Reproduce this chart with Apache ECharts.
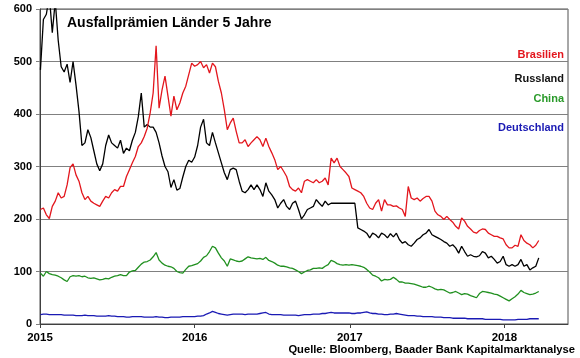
<!DOCTYPE html>
<html><head><meta charset="utf-8">
<script src="https://cdn.jsdelivr.net/npm/echarts@6/dist/echarts.min.js"></script>
<style>html,body{margin:0;padding:0;background:#fff}#c{width:580px;height:358px}</style>
</head><body><div id="c"></div>
<script>
const dates = ['2015-01-02','2015-01-09','2015-01-16','2015-01-23','2015-01-30','2015-02-06','2015-02-13','2015-02-20','2015-02-27','2015-03-06','2015-03-13','2015-03-20','2015-03-27','2015-04-03','2015-04-10','2015-04-17','2015-04-24','2015-05-01','2015-05-08','2015-05-15','2015-05-22','2015-05-29','2015-06-05','2015-06-12','2015-06-19','2015-06-26','2015-07-03','2015-07-10','2015-07-17','2015-07-24','2015-07-31','2015-08-07','2015-08-14','2015-08-21','2015-08-28','2015-09-04','2015-09-11','2015-09-18','2015-09-25','2015-10-02','2015-10-09','2015-10-16','2015-10-23','2015-10-30','2015-11-06','2015-11-13','2015-11-20','2015-11-27','2015-12-04','2015-12-11','2015-12-18','2015-12-25',
'2016-01-01','2016-01-08','2016-01-15','2016-01-22','2016-01-29','2016-02-05','2016-02-12','2016-02-19','2016-02-26','2016-03-04','2016-03-11','2016-03-18','2016-03-25','2016-04-01','2016-04-08','2016-04-15','2016-04-22','2016-04-29','2016-05-06','2016-05-13','2016-05-20','2016-05-27','2016-06-03','2016-06-10','2016-06-17','2016-06-24','2016-07-01','2016-07-08','2016-07-15','2016-07-22','2016-07-29','2016-08-05','2016-08-12','2016-08-19','2016-08-26','2016-09-02','2016-09-09','2016-09-16','2016-09-23','2016-09-30','2016-10-07','2016-10-14','2016-10-21','2016-10-28','2016-11-04','2016-11-11','2016-11-18','2016-11-25','2016-12-02','2016-12-09','2016-12-16','2016-12-23','2016-12-30',
'2017-01-06','2017-01-13','2017-01-20','2017-01-27','2017-02-03','2017-02-10','2017-02-17','2017-02-24','2017-03-03','2017-03-10','2017-03-17','2017-03-24','2017-03-31','2017-04-07','2017-04-14','2017-04-21','2017-04-28','2017-05-05','2017-05-12','2017-05-19','2017-05-26','2017-06-02','2017-06-09','2017-06-16','2017-06-23','2017-06-30','2017-07-07','2017-07-14','2017-07-21','2017-07-28','2017-08-04','2017-08-11','2017-08-18','2017-08-25','2017-09-01','2017-09-08','2017-09-15','2017-09-22','2017-09-29','2017-10-06','2017-10-13','2017-10-20','2017-10-27','2017-11-03','2017-11-10','2017-11-17','2017-11-24','2017-12-01','2017-12-08','2017-12-15','2017-12-22','2017-12-29',
'2018-01-05','2018-01-12','2018-01-19','2018-01-26','2018-02-02','2018-02-09','2018-02-16','2018-02-23','2018-03-02','2018-03-09','2018-03-16','2018-03-23'];

const brasilien = [218,221,208,201,224,234,250,240,243,265,
298,305,284,272,250,237,243,234,230,227,
224,234,243,240,250,256,253,262,262,281,
294,307,319,338,345,357,373,402,440,530,
411,446,472,434,396,434,408,421,440,453,
475,497,491,494,500,488,494,478,497,490,
462,440,408,370,383,392,367,345,345,351,
338,345,351,357,351,338,354,338,326,313,
294,300,291,281,262,256,253,259,250,272,
275,272,269,275,269,272,278,265,316,307,
316,300,294,288,281,259,256,253,250,243,
230,221,218,230,237,215,237,227,227,224,
225,221,218,205,262,240,237,240,234,239,
243,243,234,215,208,205,199,205,199,194,
186,181,202,196,186,181,175,173,178,181,
180,173,170,167,167,164,162,151,145,145,
150,148,170,159,154,151,145,150,159];

const russland = [484,580,590,625,555,615,540,490,480,495,
460,500,455,405,340,345,370,355,330,305,
292,305,340,360,345,340,335,350,325,335,
330,350,365,395,440,375,380,375,375,365,
345,320,300,290,260,275,255,258,280,300,
312,308,318,340,375,390,345,340,365,345,
326,307,288,275,294,297,294,272,253,250,
256,265,256,265,256,243,269,253,246,237,
221,230,237,224,218,230,234,218,200,208,
218,221,224,237,230,224,234,227,230,230,
230,230,230,230,230,230,230,183,180,177,
173,164,173,170,164,173,170,164,172,166,
173,161,154,157,151,148,154,161,164,170,
173,180,170,167,164,161,157,154,148,151,
145,135,148,138,129,132,129,128,130,138,
135,126,129,123,116,119,129,113,110,113,
110,113,123,110,113,103,107,110,126];

const china = [97,91,100,96,94,93,91,88,84,81,
90,92,91,92,90,91,88,87,88,86,
84,85,87,86,89,91,92,94,92,92,
99,101,102,108,114,118,119,122,128,136,
122,116,112,110,109,106,100,98,97,104,
110,111,113,115,120,127,130,138,148,145,
135,126,120,110,124,122,120,119,120,124,
128,126,125,124,125,123,127,121,119,116,
112,110,110,109,107,106,103,100,96,99,
102,103,106,106,107,106,110,113,121,119,
115,113,112,113,112,113,112,111,110,108,
104,99,93,91,88,82,85,84,85,89,
85,80,80,78,78,77,76,74,72,70,
70,72,70,67,65,66,65,62,59,60,
62,59,56,58,57,54,52,50,58,62,
61,60,59,57,56,53,50,47,44,48,
52,57,64,60,58,56,57,59,62];

const deutschland = [18,19,19,18,18,18,18,18,17,17,17,
17,16,16,16,17,16,16,16,15,15,
15,15,16,15,15,14,14,14,13,13,
14,14,14,14,13,13,13,13,14,13,13,12,12,13,13,
13,13,14,14,14,14,14,15,15,16,19,21,24,
22,20,19,18,17,18,19,19,19,19,18,19,
19,19,19,20,21,22,19,18,18,18,18,17,17,17,17,
17,16,17,18,18,18,19,19,19,20,20,21,22,21,21,
21,21,21,21,20,20,21,21,22,23,21,20,20,19,19,18,18,19,19,
20,19,18,17,16,16,16,15,15,14,14,14,14,13,13,13,12,12,12,11,11,
11,11,11,10,10,10,10,10,10,9,9,9,9,9,9,8,8,8,8,8,9,9,9,9,10,10,10,10];

const yearLabels = ['2015','2016','2017','2018'];
const axisStart = '2015-01-01';
const axisEnd = '2018-05-31';
const yTicks = [0,100,200,300,400,500,600];
const seriesNames = ['Brasilien','Russland','China','Deutschland'];
const seriesColors = ['#e3161d','#000000','#20901f','#1a1ab4'];

const FONT = '"Liberation Sans", Arial, sans-serif';
const ts = s => { const p = s.split('-').map(Number); return Date.UTC(p[0], (p[1] || 1) - 1, p[2] || 1); };
const yearTs = yearLabels.map(y => ts(y));
const pairs = arr => arr.map((v, i) => [ts(dates[i]), v]);
const allData = [brasilien, russland, china, deutschland];

const chart = echarts.init(document.getElementById('c'), null, {renderer: 'canvas'});
chart.setOption({
  animation: false,
  backgroundColor: '#ffffff',
  grid: {left: 40, right: 12, top: 9, bottom: 34, show: true, borderColor: '#505050', borderWidth: 1, containLabel: false},
  xAxis: {
    type: 'value',
    min: ts(axisStart),
    max: ts(axisEnd),
    axisLine: {show: true, lineStyle: {color: '#404040', width: 1}},
    axisTick: {show: true, length: 4, customValues: yearTs, lineStyle: {color: '#404040'}},
    axisLabel: {customValues: yearTs, formatter: v => String(new Date(v).getUTCFullYear()),
      fontFamily: FONT, fontWeight: 'bold', fontSize: 11.5, color: '#000', margin: 8},
    splitLine: {show: false}
  },
  yAxis: {
    type: 'value', min: yTicks[0], max: yTicks[yTicks.length - 1], interval: 100,
    axisLine: {show: true, lineStyle: {color: '#404040', width: 1}},
    axisTick: {show: true, length: 4, lineStyle: {color: '#808080'}},
    axisLabel: {fontFamily: FONT, fontWeight: 'bold', fontSize: 11, color: '#000', margin: 8},
    splitLine: {show: true, lineStyle: {color: '#808080', width: 1}}
  },
  series: seriesNames.map((n, i) => ({
    name: n, type: 'line', data: pairs(allData[i]), showSymbol: false, symbol: 'none',
    clip: true, lineStyle: {color: seriesColors[i], width: 1.3}, z: 10 - i
  })),
  graphic: [
    {type: 'text', x: 67, y: 23, style: {text: 'Ausfallprämien Länder 5 Jahre', fill: '#000', font: 'bold 14px ' + FONT, align: 'left', verticalAlign: 'middle'}},
    {type: 'text', x: 564, y: 55, style: {text: seriesNames[0], fill: seriesColors[0], font: 'bold 11px ' + FONT, align: 'right', verticalAlign: 'middle'}},
    {type: 'text', x: 564, y: 79, style: {text: seriesNames[1], fill: '#111', font: 'bold 11px ' + FONT, align: 'right', verticalAlign: 'middle'}},
    {type: 'text', x: 564, y: 99, style: {text: seriesNames[2], fill: '#2a9a2a', font: 'bold 11px ' + FONT, align: 'right', verticalAlign: 'middle'}},
    {type: 'text', x: 564, y: 128, style: {text: seriesNames[3], fill: '#1a1ab4', font: 'bold 11px ' + FONT, align: 'right', verticalAlign: 'middle'}},
    {type: 'text', x: 575, y: 350, style: {text: 'Quelle: Bloomberg, Baader Bank Kapitalmarktanalyse', fill: '#000', font: 'bold 11.2px ' + FONT, align: 'right', verticalAlign: 'middle'}}
  ]
});
</script></body></html>
